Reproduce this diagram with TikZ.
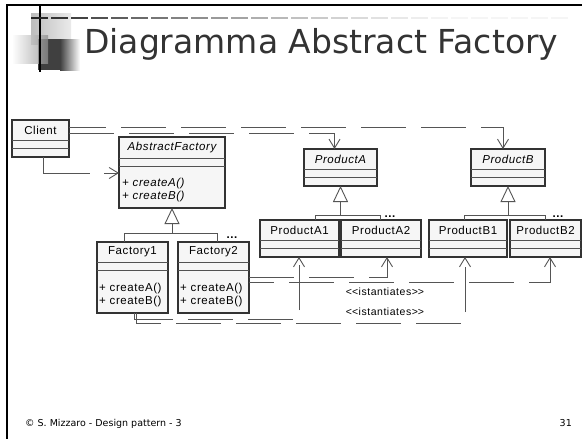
\documentclass[tikz,border=0pt]{standalone}
\usepackage{fontspec}
\setmainfont{DejaVu Sans}
\newfontfamily\umlfont[LetterSpace=5]{Liberation Sans}
\usetikzlibrary{arrows.meta,calc}

\definecolor{ink}{HTML}{333333}
\definecolor{boxfill}{HTML}{F6F6F6}
\definecolor{wire}{HTML}{555555}

% UML class box: name, left, top, width, height, first divider offset, title
\newcommand\umlclass[7]{%
  \node[classbox, minimum width=#4, minimum height=#5] (#1) at (#2,#3) {};
  \draw[divider] ($(#1.north west)+(0,#6)$) -- ($(#1.north east)+(0,#6)$);
  \draw[divider] ($(#1.north west)+(0,#6+8)$) -- ($(#1.north east)+(0,#6+8)$);
  \node[cname] (#1-name) at ($(#1.north)+(0,#6/2)$) {#7};
}

\begin{document}
\begin{tikzpicture}[x=1pt,y=-1pt,
  classbox/.style={draw=ink, line width=1.2pt, fill=boxfill, inner sep=0pt,
    outer sep=0pt, anchor=north west},
  divider/.style={draw=ink!85, line width=1pt},
  cname/.style={font=\umlfont\fontsize{11.5}{12}\selectfont, inner sep=0pt},
  ops/.style={font=\umlfont\fontsize{11.5}{12}\selectfont, inner sep=0pt, anchor=base west},
  lbl/.style={font=\umlfont\fontsize{10.5}{11}\selectfont, inner sep=0pt},
  more/.style={font=\umlfont\bfseries\fontsize{11.5}{12}\selectfont, inner sep=0pt, anchor=base},
  dep/.style={draw=wire, line width=0.9pt, dash pattern=on 45pt off 15pt,
    -{Straight Barb[length=9pt,width=11pt]}},
  genline/.style={draw=wire, line width=0.9pt},
  gen/.style={draw=wire, line width=0.9pt,
    -{Triangle[length=16pt,width=15pt,fill=white]}},
]
\useasboundingbox (0,0) rectangle (582,439);
\fill[white] (0,0) rectangle (582,439);

% slide frame
\draw[line width=2pt] (7,439) -- (7,5) -- (582,5);

% title ornament
\shade[left color=black!26, right color=black!8] (31,13) rectangle (71,44);
\fill[black!75] (38,39) rectangle (60,70);
\shade[left color=black!75, right color=white] (60,39) rectangle (80,70);
\shade[left color=white, right color=black!45, opacity=0.75] (12,35) rectangle (48,63);
\draw[line width=1.5pt] (40,5) -- (40,72);
\foreach \i in {0,...,26} {
  \pgfmathsetmacro\shadeval{max(4,85*(max(0.01,1-\i/24))^1.6)}
  \draw[black!\shadeval, line width=1.1pt] ({31+20*\i},18) -- ({48+20*\i},18);
}

\node[anchor=base west, inner sep=0pt, text=ink, font=\fontsize{33}{33}\selectfont]
  (title) at (84,53) {Diagramma Abstract Factory};

% classes
\umlclass{client}{12}{120}{57}{37}{20}{Client}
\umlclass{abstractFactory}{119}{137}{106}{71}{21}{\itshape AbstractFactory}
\umlclass{productA}{304}{149}{73}{37}{20}{\itshape ProductA}
\umlclass{productB}{471}{149}{74}{37}{20}{\itshape ProductB}
\umlclass{productA1}{260}{220}{79}{37}{20}{ProductA1}
\umlclass{productA2}{341}{220}{80}{37}{20}{ProductA2}
\umlclass{productB1}{429}{220}{78}{37}{20}{ProductB1}
\umlclass{productB2}{510}{220}{71}{37}{20}{ProductB2}
\umlclass{factory1}{97}{242}{71}{71}{20}{Factory1}
\umlclass{factory2}{178}{242}{71}{71}{20}{Factory2}

% operations
\node[ops] (afA) at (122,186) {\itshape + createA()};
\node[ops] (afB) at (122,199) {\itshape + createB()};
\node[ops] (f1A) at (99,291) {+ createA()};
\node[ops] (f1B) at (99,304) {+ createB()};
\node[ops] (f2A) at (180,291) {+ createA()};
\node[ops] (f2B) at (180,304) {+ createB()};

% generalizations
\draw[genline] ($(factory1.north)+(-8.5,0)$) |- ($(factory2.north)+(3.5,-9)$)
  -- ($(factory2.north)+(3.5,0)$);
\draw[gen] ($(abstractFactory.south)+(0,25)$) -- (abstractFactory.south);
\draw[genline] ($(productA1.north)+(15.5,0)$) |- ($(productA2.north)+(-1,-5)$)
  -- ($(productA2.north)+(-1,0)$);
\draw[gen] ($(productA.south)+(0,29)$) -- (productA.south);
\draw[genline] ($(productB1.north)+(-4,0)$) |- ($(productB2.north)+(-0.5,-5)$)
  -- ($(productB2.north)+(-0.5,0)$);
\draw[gen] ($(productB.south)+(0,29)$) -- (productB.south);
\node[more] (moreF) at (232,238) {...};
\node[more] (moreA) at (390,217) {...};
\node[more] (moreB) at (558,217) {...};

% dependencies of the client
\draw[dep, dash pattern=on 63pt off 14pt] ($(client.south)+(2.5,0)$)
  |- ($(abstractFactory.north west)+(0,36)$);
\draw[dep] ($(client.north east)+(0,13)$) -| ($(productA.north)+(-6,0)$);
\draw[dep, dash phase=8pt] ($(client.north east)+(0,7)$) -| ($(productB.north)+(-5,0)$);

% instantiation dependencies of the concrete factories
\draw[dep] (factory2.east) -| ($(productA2.south)+(6,0)$);
\draw[dep, dash phase=20pt] ($(factory2.east)+(0,5)$) -| ($(productB2.south)+(4.5,0)$);
\draw[dep] ($(factory1.south)+(1.5,0)$) |- ($(productA1.south)+(-0.5,62)$)
  -- ($(productA1.south)+(-0.5,0)$);
\draw[dep, dash phase=10pt] ($(factory1.south)+(3.5,0)$) |- ($(productB1.south)+(-3,66)$)
  -- ($(productB1.south)+(-3,0)$);
\node[lbl] (inst1) at (385,292) {<\kern0pt<istantiates>\kern0pt>};
\node[lbl] (inst2) at (385,312) {<\kern0pt<istantiates>\kern0pt>};

% footer
\node[anchor=base west, inner sep=0pt, font=\fontsize{9.5}{10}\selectfont]
  (footer) at (25,426) {© S. Mizzaro - Design pattern - 3};
\node[anchor=base east, inner sep=0pt, font=\fontsize{9.5}{10}\selectfont]
  (page) at (572,426) {31};
\end{tikzpicture}
\end{document}
